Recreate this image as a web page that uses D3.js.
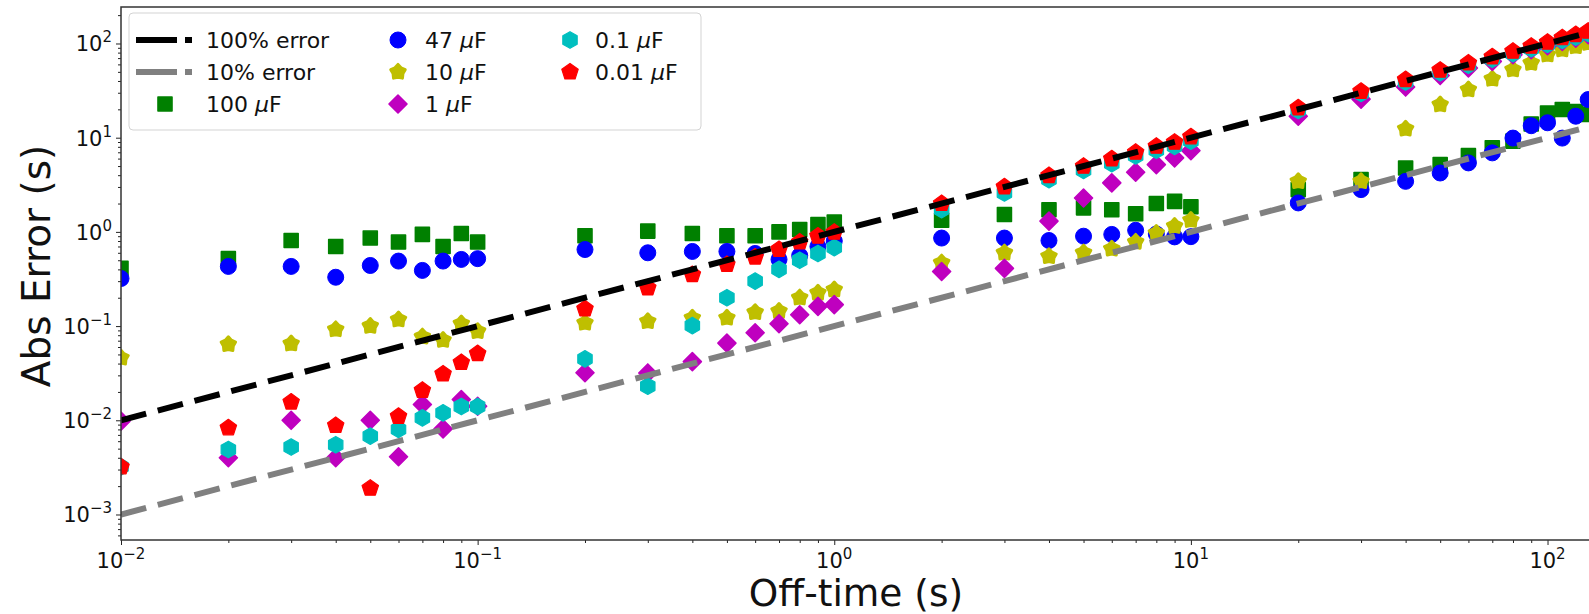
<!DOCTYPE html>
<html>
<head>
<meta charset="utf-8">
<script src="https://cdn.jsdelivr.net/npm/d3@7"></script>
<style>
  body { margin: 0; background: #fff; }
  svg { display: block; font-family: "DejaVu Sans", sans-serif; }
</style>
</head>
<body>
<div id="chart"></div>
<script>
// off-time values (s)
const offTimes = [0.01, 0.02, 0.03, 0.04, 0.05, 0.06, 0.07, 0.08, 0.09, 0.1,
    0.2, 0.3, 0.4, 0.5, 0.6, 0.7, 0.8, 0.9, 1,
    2, 3, 4, 5, 6, 7, 8, 9, 10,
    20, 30, 40, 50, 60, 70, 80, 90, 100,
    110, 120, 130];

// absolute error (s) per capacitor
const err100uF = [0.41, 0.52, 0.81, 0.70, 0.86, 0.78, 0.94, 0.70, 0.96, 0.78,
    0.91, 1.02, 0.96, 0.91, 0.91, 1.00, 1.06, 1.20, 1.27,
    1.33, 1.53, 1.72, 1.80, 1.72, 1.56, 2.0, 2.11, 1.85,
    2.81, 3.59, 4.77, 5.18, 6.45, 7.8, 9.2, 14, 18.3,
    19.9, 19, 17.6];
const err47uF = [0.32, 0.43, 0.43, 0.33, 0.44, 0.49, 0.39, 0.49, 0.51, 0.52,
    0.65, 0.60, 0.62, 0.62, 0.59, 0.51, 0.56, 0.70, 0.80,
    0.86, 0.86, 0.81, 0.90, 0.94, 1.04, 0.95, 0.885, 0.89,
    2.03, 2.81, 3.44, 4.22, 5.4, 6.9, 9.9, 13.4, 14.4,
    9.9, 16.9, 25.4];
const err10uF = [0.046, 0.064, 0.065, 0.092, 0.10, 0.117, 0.077, 0.071, 0.106, 0.088,
    0.108, 0.112, 0.122, 0.122, 0.14, 0.144, 0.20, 0.225, 0.244,
    0.47, 0.60, 0.55, 0.60, 0.66, 0.78, 0.97, 1.15, 1.33,
    3.44, 3.44, 12.4, 22.4, 32.4, 42, 52.8, 62, 76,
    86, 93, 101];
const err1uF = [0.0098, 0.0040, 0.010, 0.0040, 0.010, 0.0041, 0.0147, 0.0081, 0.0166, 0.0141,
    0.032, 0.0318, 0.042, 0.066, 0.085, 0.106, 0.132, 0.162, 0.169,
    0.38, 0.41, 1.30, 2.29, 3.31, 4.3, 5.18, 6.1, 7.3,
    16.9, 25.7, 34.5, 45.7, 55, 64.6, 76, 86, 95,
    105, 114, 124];
const err01uF = [0.0032, 0.0049, 0.0052, 0.0055, 0.0068, 0.0080, 0.0106, 0.012, 0.014, 0.014,
    0.0448, 0.023, 0.101, 0.20, 0.30, 0.40, 0.50, 0.59, 0.68,
    1.72, 2.59, 3.59, 4.5, 5.3, 6.4, 7.35, 8.1, 9.2,
    19.5, 29.5, 39, 49, 59, 68, 78, 88, 98,
    108, 117, 128];
const err001uF = [0.0032, 0.0083, 0.0156, 0.0088, 0.0019, 0.011, 0.0208, 0.031, 0.041, 0.051,
    0.152, 0.254, 0.352, 0.45, 0.54, 0.65, 0.78, 0.90, 0.99,
    2.0, 3.0, 3.96, 4.97, 5.95, 7.0, 8.1, 8.95, 10.2,
    20.7, 31, 41.3, 52, 62, 72, 82.6, 93.5, 103,
    115, 124, 135];

const seriesNames = ["100", "47", "10", "1", "0.1", "0.01"];
const seriesValues = [err100uF, err47uF, err10uF, err1uF, err01uF, err001uF];
const seriesColors = ["#008000", "#0000ff", "#bfbf00", "#bf00bf", "#00bfbf", "#ff0000"];
const seriesShapes = ["square", "circle", "star", "diamond", "hexagon", "pentagon"];

const xTicks = [1e-2, 1e-1, 1e0, 1e1, 1e2];
const xTickExp = ["\u22122", "\u22121", "0", "1", "2"];
const yTicks = [1e-3, 1e-2, 1e-1, 1e0, 1e1, 1e2];
const yTickExp = ["\u22123", "\u22122", "\u22121", "0", "1", "2"];

const W = 1589, H = 614;
const margin = { top: 7, right: -2, bottom: 74, left: 121 };
const x0 = margin.left, x1 = W - margin.right;
const y0 = margin.top, y1 = H - margin.bottom;

const svg = d3.select("#chart").append("svg")
    .attr("width", W)
    .attr("height", H);

const x = d3.scaleLog().domain([0.01, 132.4]).range([x0, x1]);
const y = d3.scaleLog().domain([5.36e-4, 244]).range([y1, y0]);

svg.append("defs").append("clipPath").attr("id", "plotClip")
    .append("rect").attr("x", x0).attr("y", y0)
    .attr("width", x1 - x0).attr("height", y1 - y0);

// marker path builders (centred at 0,0)
function polygon(n, r, rot) {
    const pts = d3.range(n).map(i => {
        const a = rot + i * 2 * Math.PI / n;
        return [r * Math.sin(a), -r * Math.cos(a)];
    });
    return "M" + pts.map(p => p.join(",")).join("L") + "Z";
}
function star(r, ri) {
    const pts = d3.range(10).map(i => {
        const a = i * Math.PI / 5;
        const rr = i % 2 === 0 ? r : ri;
        return [rr * Math.sin(a), -rr * Math.cos(a)];
    });
    return "M" + pts.map(p => p.join(",")).join("L") + "Z";
}
const shapePath = {
    square: "M-7,-7H7V7H-7Z",
    circle: "M8,0A8,8 0 1,1 -8,0A8,8 0 1,1 8,0Z",
    diamond: "M0,-9L9,0L0,9L-9,0Z",
    hexagon: polygon(6, 8.3, 0),
    pentagon: polygon(5, 8.6, 0),
    star: star(7.6, 5.2)
};
const strokeW = { square: 1.6, circle: 1, diamond: 1.6, hexagon: 1.2, pentagon: 1.2, star: 3 };

// scatter markers
const plot = svg.append("g").attr("clip-path", "url(#plotClip)");
seriesValues.forEach((vals, si) => {
    plot.append("g")
        .selectAll("path")
        .data(vals.map((v, i) => ({ t: offTimes[i], e: v })))
        .join("path")
        .attr("transform", d => `translate(${x(d.t)},${y(d.e)})`)
        .attr("d", shapePath[seriesShapes[si]])
        .attr("fill", seriesColors[si])
        .attr("stroke", seriesColors[si])
        .attr("stroke-width", strokeW[seriesShapes[si]])
        .attr("stroke-linejoin", "round");
});

// 100% and 10% error reference lines
const refX = [0.01, 132.4];
const lineGen = d3.line().x(d => x(d[0])).y(d => y(d[1]));
plot.append("path")
    .attr("d", lineGen(refX.map(t => [t, t])))
    .attr("fill", "none").attr("stroke", "#000")
    .attr("stroke-width", 6).attr("stroke-dasharray", "26,12");
plot.append("path")
    .attr("d", lineGen(refX.map(t => [t, 0.1 * t])))
    .attr("fill", "none").attr("stroke", "#808080")
    .attr("stroke-width", 6).attr("stroke-dasharray", "26,12");

// axes
function minors(lo, hi) {
    const out = [];
    for (let e = lo; e < hi; e++) for (let k = 2; k <= 9; k++) out.push(k * Math.pow(10, e));
    return out;
}
const xMinor = minors(-2, 3).filter(v => v <= 132.4);
const yMinor = minors(-4, 3).filter(v => v >= 5.36e-4 && v <= 244);

svg.append("g").attr("transform", `translate(0,${y1})`)
    .call(d3.axisBottom(x).tickValues(xTicks).tickFormat("").tickSize(5).tickSizeOuter(0))
    .call(g => g.select(".domain").remove());
svg.append("g").attr("transform", `translate(0,${y1})`)
    .call(d3.axisBottom(x).tickValues(xMinor).tickFormat("").tickSize(3).tickSizeOuter(0))
    .call(g => g.select(".domain").remove());
svg.append("g").attr("transform", `translate(${x0},0)`)
    .call(d3.axisLeft(y).tickValues(yTicks).tickFormat("").tickSize(5).tickSizeOuter(0))
    .call(g => g.select(".domain").remove());
svg.append("g").attr("transform", `translate(${x0},0)`)
    .call(d3.axisLeft(y).tickValues(yMinor).tickFormat("").tickSize(3).tickSizeOuter(0))
    .call(g => g.select(".domain").remove());
svg.selectAll(".tick line").attr("stroke", "#222").attr("stroke-width", 1);

// frame
svg.append("rect")
    .attr("x", x0).attr("y", y0)
    .attr("width", x1 - x0).attr("height", y1 - y0)
    .attr("fill", "none").attr("stroke", "#333").attr("stroke-width", 1.5);

// tick labels
const xl = svg.append("g").selectAll("text").data(xTicks).join("text")
    .attr("x", d => x(d)).attr("y", y1 + 28)
    .attr("text-anchor", "middle").attr("font-size", 21).attr("fill", "#111");
xl.append("tspan").text("10");
xl.append("tspan").attr("dy", -9).attr("font-size", 15).text((d, i) => xTickExp[i]);

const yl = svg.append("g").selectAll("text").data(yTicks).join("text")
    .attr("x", x0 - 9).attr("y", d => y(d) + 8)
    .attr("text-anchor", "end").attr("font-size", 21).attr("fill", "#111");
yl.append("tspan").text("10");
yl.append("tspan").attr("dy", -9).attr("font-size", 15).text((d, i) => yTickExp[i]);

// axis titles
svg.append("text")
    .attr("x", (x0 + x1) / 2).attr("y", H - 8)
    .attr("text-anchor", "middle").attr("font-size", 37.5).attr("fill", "#111")
    .text("Off-time (s)");
svg.append("text")
    .attr("transform", "translate(50,266) rotate(-90)")
    .attr("text-anchor", "middle").attr("font-size", 39).attr("fill", "#111")
    .text("Abs Error (s)");

// legend
const legend = svg.append("g");
legend.append("rect")
    .attr("x", 129).attr("y", 13).attr("width", 572).attr("height", 117)
    .attr("rx", 4).attr("fill", "#fff").attr("fill-opacity", 0.85)
    .attr("stroke", "#d3d3d3").attr("stroke-width", 1);

const legendItems = [
    { label: "100% error", line: "#000" },
    { label: "10% error", line: "#808080" }
].concat(seriesNames.map((n, i) => ({ label: n, series: i })));

const colMarkX = [165, 398, 570];
const colTextX = [206, 425, 595];
const rowY = [40, 72, 104];
legendItems.forEach((item, i) => {
    const c = Math.floor(i / 3), r = i % 3;
    const g = legend.append("g").attr("transform", `translate(0,${rowY[r]})`);
    if (item.line) {
        g.append("line").attr("x1", colMarkX[c] - 29).attr("x2", colMarkX[c] + 27)
            .attr("y1", 0).attr("y2", 0)
            .attr("stroke", item.line).attr("stroke-width", 6)
            .attr("stroke-dasharray", "41,8");
    } else {
        const s = item.series;
        g.append("path").attr("transform", `translate(${colMarkX[c]},0)`)
            .attr("d", shapePath[seriesShapes[s]])
            .attr("fill", seriesColors[s]).attr("stroke", seriesColors[s])
            .attr("stroke-width", strokeW[seriesShapes[s]])
            .attr("stroke-linejoin", "round");
    }
    const t = g.append("text").attr("x", colTextX[c]).attr("y", 8)
        .attr("font-size", 22).attr("fill", "#111");
    if (item.line) {
        t.text(item.label);
    } else {
        t.append("tspan").text(item.label + " ");
        t.append("tspan").attr("font-style", "italic").text("\u03bc");
        t.append("tspan").text("F");
    }
});
</script>
</body>
</html>
